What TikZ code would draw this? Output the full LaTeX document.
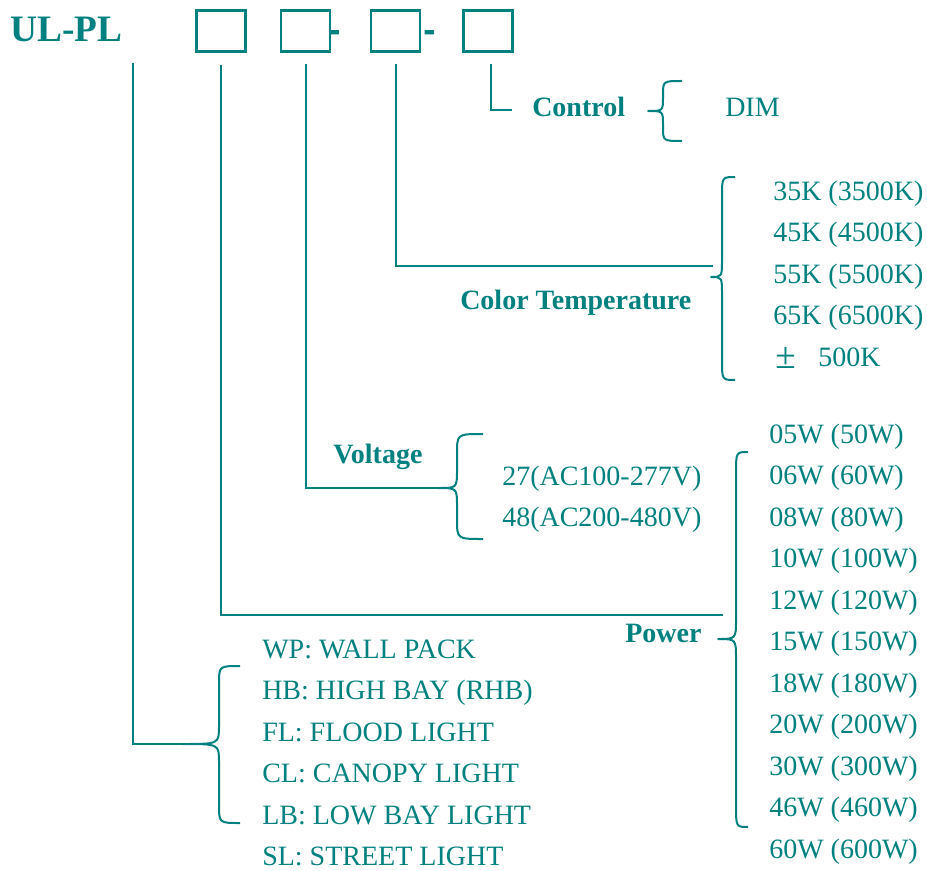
\documentclass[tikz,border=0pt]{standalone}
\usepackage{fontspec}
\setmainfont{Liberation Serif}
\newfontfamily\dashfont{DejaVu Sans}
\usetikzlibrary{calc}
\definecolor{ink}{HTML}{00807E}

\begin{document}
\begin{tikzpicture}[
  x=0.75pt, y=-0.75pt,
  font=\fontsize{21}{25}\selectfont,
  slot/.style = {draw=ink, line width=2pt, minimum width=36.75pt, minimum height=31pt,
                 inner sep=0pt},
  opt/.style  = {anchor=base west, inner sep=0pt, text=ink},
  head/.style = {opt, font=\bfseries\fontsize{21}{25}\selectfont},
  ln/.style   = {draw=ink, line width=1.5pt, line join=miter},
  brc/.style  = {draw=ink, line width=1.5pt, line join=round},
]
\useasboundingbox (0,0) rectangle (927,870);

% --- the code and its four slots ------------------------------------------------------------------
\node[head, font=\bfseries\fontsize{28}{30}\selectfont] (brand) at (10,42) {UL-PL};
\node[slot] (slot1) at (221,31) {};
\node[slot] (slot2) at (305.5,31) {};
\node[slot] (slot3) at (395.5,31) {};
\node[slot] (slot4) at (488,31) {};
\node[opt, font=\dashfont\bfseries\fontsize{23}{25}\selectfont] (dash1) at (328.5,41.5) {-};
\node[opt, font=\dashfont\bfseries\fontsize{23}{25}\selectfont] (dash2) at (423.5,41.5) {-};

% --- the turns and free ends of the leaders --------------------------------------------------------
\coordinate (typetop)  at (133,63);
\coordinate (typeturn) at (133,744);
\coordinate (powturn)  at (221,615);
\coordinate (powend)   at (723,615);
\coordinate (voltturn) at (305.5,488);
\coordinate (ctturn)   at (395.5,266);
\coordinate (ctend)    at (713,266);
\coordinate (ctrlturn) at (491,110);
\coordinate (ctrlend)  at (512,110);
\coordinate (voltcusp) at (438,488);
\coordinate (typecusp) at (183,744);

% --- control ----------------------------------------------------------------------------------------
\node[head] (ctrl) at (532,117) {Control};
\node[opt]  (dim)  at (725,117) {DIM};
\draw[brc] (682,81) .. controls (663,81) .. (663,95) -- (663,97) .. controls (663,111) .. (648,111)
           .. controls (663,111) .. (663,125) -- (663,127) .. controls (663,141) .. (682,141);
\draw[ln] ($(slot4.south)+(3,11)$) -- (ctrlturn) -- (ctrlend);

% --- color temperature ------------------------------------------------------------------------------
\node[head] (ct)  at (460,309)   {Color Temperature};
\node[opt]  (k35) at (773,200)   {35K (3500K)};
\node[opt]  (k45) at (773,241.5) {45K (4500K)};
\node[opt]  (k55) at (773,283)   {55K (5500K)};
\node[opt]  (k65) at (773,324.5) {65K (6500K)};
\node[opt]  (kpm) at (775,366)   {{\fontsize{28}{28}\selectfont\raisebox{-1.5pt}{±}}\hspace{17pt}500K};
\draw[brc] (735,177) .. controls (722,177) .. (722,197) -- (722,259) .. controls (722,277) .. (711,277)
           .. controls (722,277) .. (722,295) -- (722,360) .. controls (722,380) .. (735,380);
\draw[ln] ($(slot3.south)+(0,11)$) -- (ctturn) -- (ctend);

% --- voltage ----------------------------------------------------------------------------------------
\node[head] (volt) at (333,463)   {Voltage};
\node[opt]  (v27)  at (502,485)   {27(AC100-277V)};
\node[opt]  (v48)  at (502,526.5) {48(AC200-480V)};
\draw[brc] (483,434) .. controls (457,434) .. (457,454) -- (457,470) .. controls (457,488) .. (voltcusp)
           .. controls (457,488) .. (457,506) -- (457,519) .. controls (457,539) .. (483,539);
\draw[ln] ($(slot2.south)+(0,11)$) -- (voltturn) -- (voltcusp);

% --- power ------------------------------------------------------------------------------------------
\node[head] (pow) at (625,642)   {Power};
\node[opt]  (w05) at (769,443)   {05W (50W)};
\node[opt]  (w06) at (769,484.5) {06W (60W)};
\node[opt]  (w08) at (769,526)   {08W (80W)};
\node[opt]  (w10) at (769,567.5) {10W (100W)};
\node[opt]  (w12) at (769,609)   {12W (120W)};
\node[opt]  (w15) at (769,650.5) {15W (150W)};
\node[opt]  (w18) at (769,692)   {18W (180W)};
\node[opt]  (w20) at (769,733.5) {20W (200W)};
\node[opt]  (w30) at (769,775)   {30W (300W)};
\node[opt]  (w46) at (769,816.5) {46W (460W)};
\node[opt]  (w60) at (769,858)   {60W (600W)};
\draw[brc] (748,452) .. controls (736,452) .. (736,474) -- (736,619) .. controls (736,639) .. (718,639)
           .. controls (736,639) .. (736,659) -- (736,805) .. controls (736,827) .. (748,827);
\draw[ln] ($(slot1.south)+(0,12)$) -- (powturn) -- (powend);

% --- type of light ----------------------------------------------------------------------------------
\node[opt] (wp) at (262,658)   {WP: WALL PACK};
\node[opt] (hb) at (262,699.5) {HB: HIGH BAY (RHB)};
\node[opt] (fl) at (262,741)   {FL: FLOOD LIGHT};
\node[opt] (cl) at (262,782.5) {CL: CANOPY LIGHT};
\node[opt] (lb) at (262,824)   {LB: LOW BAY LIGHT};
\node[opt] (sl) at (262,865.5) {SL: STREET LIGHT};
\draw[brc] (240,666) .. controls (219,666) .. (219,684) -- (219,726) .. controls (219,744) .. (typecusp)
           .. controls (219,744) .. (219,762) -- (219,805) .. controls (219,823) .. (240,823);
\draw[ln] (typetop) -- (typeturn) -- (typecusp);

\end{tikzpicture}
\end{document}
